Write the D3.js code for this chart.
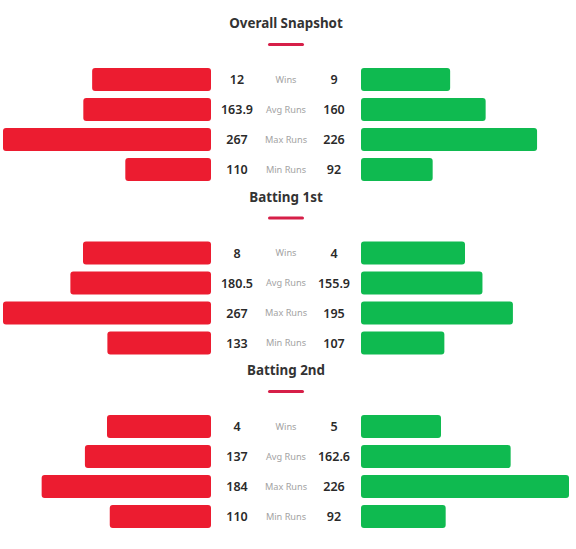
<!DOCTYPE html>
<html lang="en">
<head>
    <meta charset="UTF-8">
    <title>Head to Head Snapshot</title>
    <script src="https://d3js.org/d3.v7.min.js"></script>
    <style>
        body { margin: 0; background: #fff; font-family: "Noto Sans", Arial, sans-serif; }
        svg { display: block; }
    </style>
</head>
<body>
    <svg width="576" height="549"></svg>
    <script>
        // Sections and row labels
        const sections = ["Overall Snapshot", "Batting 1st", "Batting 2nd"];
        const metrics = ["Wins", "Avg Runs", "Max Runs", "Min Runs"];

        // Team A (red, left) values per section: wins, avg, max, min
        const teamA = [
            [12, 163.9, 267, 110],
            [8, 180.5, 267, 133],
            [4, 137, 184, 110]
        ];
        // Team B (green, right)
        const teamB = [
            [9, 160, 226, 92],
            [4, 155.9, 195, 107],
            [5, 162.6, 226, 92]
        ];
        // matches played per section (wins bars are drawn as win %)
        const matchesA = [21, 13, 8];
        const matchesB = [21, 8, 13];

        const svg = d3.select("svg");
        const red = "#ec1c30", green = "#0fba50";
        const barW = 208, barH = 23, rowStep = 30;
        const leftEdge = 211, rightEdge = 361, mid = 286;
        const sectionStep = 173.5;

        sections.forEach((title, s) => {
            const g = svg.append("g").attr("transform", `translate(0,${s * sectionStep})`);

            g.append("text")
                .attr("x", mid).attr("y", 28)
                .attr("text-anchor", "middle")
                .attr("font-size", 13.4).attr("font-weight", 700)
                .attr("fill", "#333")
                .text(title);

            g.append("rect")
                .attr("x", mid - 18).attr("y", 43)
                .attr("width", 36).attr("height", 3).attr("rx", 1.5)
                .attr("fill", "#d61f48");

            // runs scale per section, wins scale is percentage
            const runsMax = d3.max(teamA[s].slice(1).concat(teamB[s].slice(1)));
            const runsScale = d3.scaleLinear().domain([0, runsMax]).range([0, barW]);
            const pctScale = d3.scaleLinear().domain([0, 1]).range([0, barW]);

            const widthA = (v, i) => i === 0 ? pctScale(v / matchesA[s]) : runsScale(v);
            const widthB = (v, i) => i === 0 ? pctScale(v / matchesB[s]) : runsScale(v);

            metrics.forEach((m, i) => {
                const yy = 68 + i * rowStep;
                const a = teamA[s][i], b = teamB[s][i];

                g.append("rect")
                    .attr("x", leftEdge - widthA(a, i)).attr("y", yy)
                    .attr("width", widthA(a, i)).attr("height", barH)
                    .attr("rx", 3).attr("fill", red);

                g.append("rect")
                    .attr("x", rightEdge).attr("y", yy)
                    .attr("width", widthB(b, i)).attr("height", barH)
                    .attr("rx", 3).attr("fill", green);

                g.append("text")
                    .attr("x", 237).attr("y", yy + barH / 2)
                    .attr("dy", "0.36em").attr("text-anchor", "middle")
                    .attr("font-size", 12.5).attr("font-weight", 600)
                    .attr("fill", "#2a2a2a")
                    .text(a);

                g.append("text")
                    .attr("x", 334).attr("y", yy + barH / 2)
                    .attr("dy", "0.36em").attr("text-anchor", "middle")
                    .attr("font-size", 12.5).attr("font-weight", 600)
                    .attr("fill", "#2a2a2a")
                    .text(b);

                g.append("text")
                    .attr("x", mid).attr("y", yy + barH / 2)
                    .attr("dy", "0.35em").attr("text-anchor", "middle")
                    .attr("font-size", 9.2).attr("font-weight", 400)
                    .attr("fill", "#a3a3a3")
                    .text(m);
            });
        });
    </script>
</body>
</html>
